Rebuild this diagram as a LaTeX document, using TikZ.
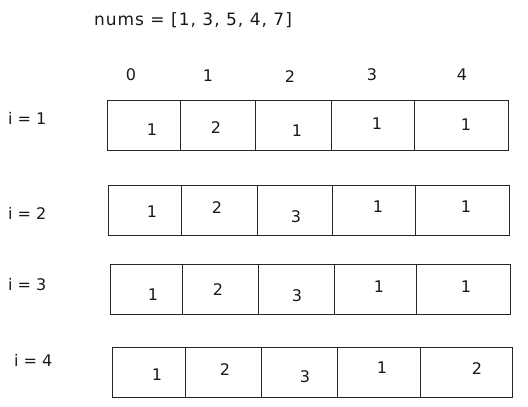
\documentclass[tikz,border=0pt]{standalone}
\usepackage{fontspec}
\setmainfont{DejaVu Sans}
\begin{document}
\begin{tikzpicture}[x=1pt,y=-1pt,
  cell/.style={draw=black!85, line width=0.9pt, inner sep=0pt},
  num/.style={font=\fontsize{16}{18}\selectfont, inner sep=0pt, text=black!90},
  lbl/.style={font=\fontsize{16}{18}\selectfont, inner sep=0pt, anchor=west, text=black!90}]
\useasboundingbox (0,0) rectangle (528,407);
\node[num, font=\fontsize{17}{18}\selectfont\addfontfeatures{LetterSpace=6}] (title) at (193,20) {nums = [1, 3, 5, 4, 7]};
% index labels
\node[num] (i0) at (131,75) {0};
\node[num] (i1) at (208,76) {1};
\node[num] (i2) at (290,77) {2};
\node[num] (i3) at (372,75) {3};
\node[num] (i4) at (462,75) {4};
% row labels
\node[lbl] (l1) at (8,118) {i = 1};
\node[lbl] (l2) at (8,213) {i = 2};
\node[lbl] (l3) at (8,285) {i = 3};
\node[lbl] (l4) at (14,360) {i = 4};
% row 1
\foreach \a/\b/\n in {107/180/0,180/255/1,255/331/2,331/414/3,414/508/4}
  \node[cell, minimum width={(\b-\a)*1pt}, minimum height=50pt] (ra\n) at ({(\a+\b)/2},125) {};
% row 2
\foreach \a/\b/\n in {108/181/0,181/257/1,257/332/2,332/415/3,415/509/4}
  \node[cell, minimum width={(\b-\a)*1pt}, minimum height=50pt] (rb\n) at ({(\a+\b)/2},210) {};
% row 3
\foreach \a/\b/\n in {110/182/0,182/258/1,258/334/2,334/416/3,416/510/4}
  \node[cell, minimum width={(\b-\a)*1pt}, minimum height=50pt] (rc\n) at ({(\a+\b)/2},289) {};
% row 4
\foreach \a/\b/\n in {112/185/0,185/261/1,261/337/2,337/420/3,420/512/4}
  \node[cell, minimum width={(\b-\a)*1pt}, minimum height=50pt] (rd\n) at ({(\a+\b)/2},372) {};
% values
\foreach \x/\y/\t/\n in {152/130/1/0,216/128/2/1,297/131/1/2,377/124/1/3,466/125/1/4}
  \node[num] (va\n) at (\x,\y) {\t};
\foreach \x/\y/\t/\n in {152/212/1/0,217/208/2/1,296/217/3/2,378/207/1/3,466/207/1/4}
  \node[num] (vb\n) at (\x,\y) {\t};
\foreach \x/\y/\t/\n in {153/295/1/0,218/290/2/1,297/296/3/2,379/287/1/3,466/287/1/4}
  \node[num] (vc\n) at (\x,\y) {\t};
\foreach \x/\y/\t/\n in {157/375/1/0,225/370/2/1,305/377/3/2,382/368/1/3,477/369/2/4}
  \node[num] (vd\n) at (\x,\y) {\t};
\end{tikzpicture}
\end{document}
